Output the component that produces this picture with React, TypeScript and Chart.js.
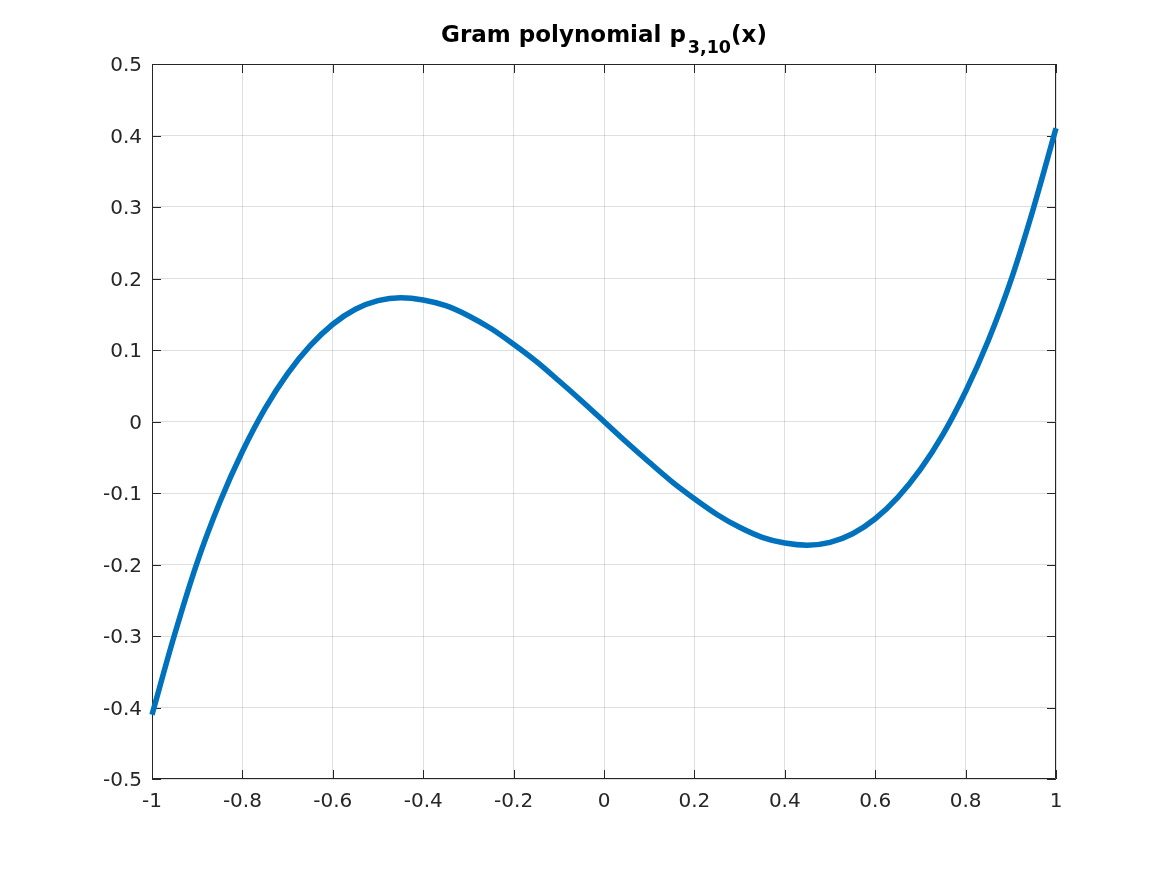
import React, { useEffect, useRef } from "react";
import { Chart, registerables } from "chart.js";

Chart.register(...registerables);

const xValues = [
  -1.0, -0.95, -0.9, -0.85, -0.8, -0.75, -0.7, -0.65, -0.6, -0.55, -0.5,
  -0.45, -0.4, -0.35, -0.3, -0.25, -0.2, -0.15, -0.1, -0.05, 0.0,
  0.05, 0.1, 0.15, 0.2, 0.25, 0.3, 0.35, 0.4, 0.45, 0.5,
  0.55, 0.6, 0.65, 0.7, 0.75, 0.8, 0.85, 0.9, 0.95, 1.0,
];

const pValues = [
  -0.41, -0.298, -0.197, -0.113, -0.042, 0.018, 0.067, 0.106, 0.136, 0.157, 0.169,
  0.173, 0.17, 0.162, 0.148, 0.13, 0.108, 0.084, 0.057, 0.029, 0.0,
  -0.029, -0.057, -0.084, -0.108, -0.13, -0.148, -0.162, -0.17, -0.173, -0.169,
  -0.157, -0.136, -0.106, -0.067, -0.018, 0.042, 0.113, 0.197, 0.298, 0.41,
];

const xTicks = [-1, -0.8, -0.6, -0.4, -0.2, 0, 0.2, 0.4, 0.6, 0.8, 1];
const xTickLabels = ["-1", "-0.8", "-0.6", "-0.4", "-0.2", "0", "0.2", "0.4", "0.6", "0.8", "1"];
const yTicks = [-0.5, -0.4, -0.3, -0.2, -0.1, 0, 0.1, 0.2, 0.3, 0.4, 0.5];
const yTickLabels = ["-0.5", "-0.4", "-0.3", "-0.2", "-0.1", "0", "0.1", "0.2", "0.3", "0.4", "0.5"];

const titleMain = "Gram polynomial p";
const titleSub = "3,10";
const titleTail = "(x)";

const AXIS_COLOR = "#262626";
const GRID_COLOR = "rgba(38,38,38,0.15)";
const LINE_COLOR = "#0072BD";
const FONT = '"DejaVu Sans", sans-serif';

function labelFor(values: number[], labels: string[], v: number): string {
  for (let i = 0; i < values.length; i++) {
    if (Math.abs(values[i] - v) < 1e-9) return labels[i];
  }
  return "";
}

const boxPlugin = {
  id: "matlabBox",
  beforeDatasetsDraw(chart: any) {
    const { ctx, chartArea } = chart;
    const { left, right, top, bottom } = chartArea;
    const xs = chart.scales.x;
    const ys = chart.scales.y;
    const tl = 9;
    ctx.save();
    ctx.strokeStyle = AXIS_COLOR;
    ctx.lineWidth = 1;
    ctx.beginPath();
    ctx.rect(left + 0.5, top + 0.5, right - left - 1, bottom - top - 1);
    ctx.stroke();
    ctx.beginPath();
    for (const v of xTicks) {
      const px = Math.round(xs.getPixelForValue(v)) + 0.5;
      ctx.moveTo(px, bottom);
      ctx.lineTo(px, bottom - tl);
      ctx.moveTo(px, top);
      ctx.lineTo(px, top + tl);
    }
    for (const v of yTicks) {
      const py = Math.round(ys.getPixelForValue(v)) + 0.5;
      ctx.moveTo(left, py);
      ctx.lineTo(left + tl, py);
      ctx.moveTo(right, py);
      ctx.lineTo(right - tl, py);
    }
    ctx.stroke();
    ctx.restore();
  },
  afterDraw(chart: any) {
    const { ctx, chartArea } = chart;
    const cx = (chartArea.left + chartArea.right) / 2;
    const mainFont = `bold 23px ${FONT}`;
    const subFont = `bold 17.5px ${FONT}`;
    ctx.save();
    ctx.fillStyle = "#000000";
    ctx.textBaseline = "alphabetic";
    ctx.textAlign = "left";
    ctx.font = mainFont;
    const w1 = ctx.measureText(titleMain).width;
    const w3 = ctx.measureText(titleTail).width;
    ctx.font = subFont;
    const w2 = ctx.measureText(titleSub).width;
    const gap = 2;
    const total = w1 + gap + w2 + w3;
    let x = cx - total / 2;
    const base = 42;
    ctx.font = mainFont;
    ctx.fillText(titleMain, x, base);
    x += w1 + gap;
    ctx.font = subFont;
    ctx.fillText(titleSub, x, base + 11);
    x += w2;
    ctx.font = mainFont;
    ctx.fillText(titleTail, x, base);
    ctx.restore();
  },
};

export default function App() {
  const canvasRef = useRef<HTMLCanvasElement | null>(null);

  useEffect(() => {
    document.body.style.margin = "0";
    const canvas = canvasRef.current;
    if (!canvas) return;
    const data = xValues.map((x, i) => ({ x, y: pValues[i] }));
    const chart = new Chart(canvas, {
      type: "line",
      data: {
        datasets: [
          {
            data,
            borderColor: LINE_COLOR,
            borderWidth: 5.5,
            pointRadius: 0,
            fill: false,
            cubicInterpolationMode: "monotone",
            borderJoinStyle: "round",
            clip: 6,
          } as any,
        ],
      },
      plugins: [boxPlugin],
      options: {
        animation: false,
        responsive: false,
        devicePixelRatio: 1,
        layout: { padding: { left: 0, top: 64, right: 111, bottom: 0 } },
        plugins: {
          legend: { display: false },
          title: { display: false },
          tooltip: { enabled: false },
        },
        scales: {
          x: {
            type: "linear",
            min: -1,
            max: 1,
            afterBuildTicks: (scale: any) => {
              scale.ticks = xTicks.map((v) => ({ value: v }));
            },
            afterFit: (scale: any) => {
              scale.height = 96;
            },
            grid: { color: GRID_COLOR, drawTicks: false, lineWidth: 1 },
            border: { display: false },
            ticks: {
              color: AXIS_COLOR,
              font: { family: FONT, size: 20 },
              padding: 11,
              maxRotation: 0,
              autoSkip: false,
              callback: (v: any) => labelFor(xTicks, xTickLabels, Number(v)),
            },
          },
          y: {
            type: "linear",
            min: -0.5,
            max: 0.5,
            afterBuildTicks: (scale: any) => {
              scale.ticks = yTicks.map((v) => ({ value: v }));
            },
            afterFit: (scale: any) => {
              scale.width = 152;
            },
            grid: { color: GRID_COLOR, drawTicks: false, lineWidth: 1 },
            border: { display: false },
            ticks: {
              color: AXIS_COLOR,
              font: { family: FONT, size: 20 },
              padding: 10,
              labelOffset: 2,
              autoSkip: false,
              callback: (v: any) => labelFor(yTicks, yTickLabels, Number(v)),
            },
          },
        },
      } as any,
    });
    return () => chart.destroy();
  }, []);

  return (
    <div style={{ width: 1167, height: 875, background: "#ffffff" }}>
      <canvas ref={canvasRef} width={1167} height={875} style={{ display: "block" }} />
    </div>
  );
}
